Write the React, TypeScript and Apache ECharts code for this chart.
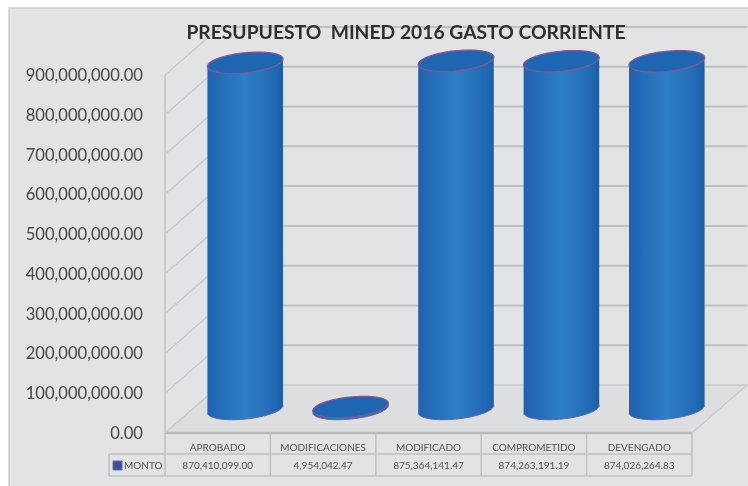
import React, { useEffect, useRef } from "react";
import * as echarts from "echarts";

const titleText = "PRESUPUESTO  MINED 2016 GASTO CORRIENTE";
const categories = ["APROBADO", "MODIFICACIONES", "MODIFICADO", "COMPROMETIDO", "DEVENGADO"];
const monto = [870410099.0, 4954042.47, 875364141.47, 874263191.19, 874026264.83];
const yTicks = [0, 100000000, 200000000, 300000000, 400000000, 500000000, 600000000, 700000000, 800000000, 900000000];
const legendName = "MONTO";

const W = 748, H = 486;
const GL = 165, GR = 692, GT = 75, GB = 433;
const DX = 55, DY = 48;
const ROW1 = 454, ROW2 = 476, LEG = 109;
const FONT = "Lato, 'Open Sans', sans-serif";
const money = (v: number) => v.toLocaleString("en-US", { minimumFractionDigits: 2, maximumFractionDigits: 2 });

const R = (-6 * Math.PI) / 180;
const A = 38, B = 10;
const ePt = (cx: number, cy: number, t: number) => [
  cx + A * Math.cos(t) * Math.cos(R) - B * Math.sin(t) * Math.sin(R),
  cy + A * Math.cos(t) * Math.sin(R) + B * Math.sin(t) * Math.cos(R),
];
const arcPts = (cx: number, cy: number, t0: number, t1: number, n = 40) => {
  const p: number[][] = [];
  for (let i = 0; i <= n; i++) p.push(ePt(cx, cy, t0 + ((t1 - t0) * i) / n));
  return p;
};

const GRID = "#bfc0c2";
const LINE = "#c0c1c3";

function renderWall(_: any, api: any) {
  const v = api.value(1);
  const p = api.coord([0, v]);
  const y = p[1];
  const lw = { stroke: "#cacbcd", lineWidth: 1.5 };
  const kids: any[] = [
    { type: "line", shape: { x1: GL, y1: y, x2: GL + DX, y2: y - DY }, style: lw },
  ];
  if (v > 0) {
    kids.push({ type: "line", shape: { x1: GL + DX, y1: y - DY, x2: GR + DX, y2: y - DY }, style: { stroke: GRID, lineWidth: 2 } });
  }
  return { type: "group", children: kids };
}

function renderCylinder(_: any, api: any) {
  const idx = api.value(0);
  const c = api.coord([idx, api.value(1)]);
  const base = api.coord([idx, 0]);
  const cx = c[0] + DX / 2;
  const top = c[1] - DY / 2;
  const bot = base[1] - DY / 2;
  const lower = arcPts(cx, bot, Math.PI, 0);
  const rimLeft = ePt(cx, top, Math.PI);
  const rimRight = ePt(cx, top, 0);
  const body = [rimLeft, ...lower, rimRight];
  const fill = new echarts.graphic.LinearGradient(0, 0, 1, 0, [
    { offset: 0, color: "#1f62b0" },
    { offset: 0.5, color: "#2e7fc5" },
    { offset: 0.88, color: "#2269b5" },
    { offset: 1, color: "#1c5ea6" },
  ]);
  const kids: any[] = [];
  if (top < bot - 1) {
    kids.push({ type: "polygon", shape: { points: body }, style: { fill } });
    kids.push({ type: "polyline", shape: { points: lower }, style: { fill: "none", stroke: "#5c68a8", lineWidth: 1 } });
  }
  kids.push({
    type: "polygon",
    shape: { points: arcPts(cx, top, 0, Math.PI * 2, 72) },
    style: { fill: "#1f66b2", stroke: "#87558f", lineWidth: 1.3 },
  });
  return { type: "group", children: kids };
}

function renderCellValue(_: any, api: any) {
  const idx = api.value(0);
  const c = api.coord([idx, 0]);
  return {
    type: "text",
    style: {
      x: c[0],
      y: 465,
      text: money(api.value(1)),
      align: "center",
      verticalAlign: "middle",
      fill: "#505050",
      font: `10px ${FONT}`,
    },
  };
}

export default function App() {
  const ref = useRef<HTMLDivElement>(null);
  useEffect(() => {
    const chart = echarts.init(ref.current!, null, { renderer: "svg" });
    const colW = (GR - GL) / categories.length;
    const tableLines: any[] = [];
    const hl = (x1: number, y: number, x2: number, w = 1.5, c = LINE) =>
      tableLines.push({ type: "line", z: 1, shape: { x1, y1: y, x2, y2: y }, style: { stroke: c, lineWidth: w } });
    const vl = (x: number, y1: number, y2: number, w = 1.5, c = LINE) =>
      tableLines.push({ type: "line", z: 1, shape: { x1: x, y1, x2: x, y2 }, style: { stroke: c, lineWidth: w } });
    hl(GL, GB, GR, 2.5, "#b9babc");
    hl(LEG, ROW1, GR);
    hl(LEG, ROW2, GR);
    vl(LEG, ROW1, ROW2);
    vl(GL, GT, ROW2);
    for (let i = 1; i <= categories.length; i++) vl(GL + colW * i, GB, ROW2);
    chart.setOption({
      animation: false,
      backgroundColor: "#ffffff",
      grid: { left: GL, right: W - GR, top: GT, bottom: H - GB },
      xAxis: {
        type: "category",
        data: categories,
        axisLine: { show: false },
        axisTick: { show: false },
        axisLabel: { color: "#505050", fontFamily: FONT, fontSize: 10, margin: 9, interval: 0 },
      },
      yAxis: {
        type: "value",
        min: 0,
        max: 900000000,
        interval: 100000000,
        axisLine: { show: false },
        axisTick: { show: false },
        splitLine: { show: false },
        axisLabel: { color: "#454545", fontFamily: FONT, fontSize: 16.6, margin: 22, formatter: (v: number) => money(v) },
      },
      graphic: [
        { type: "rect", z: 0, shape: { x: 9, y: 8, width: W, height: H }, style: { fill: "#e2e3e5", stroke: "#d0d1d3", lineWidth: 1.5 } },
        {
          type: "polygon",
          z: 0,
          shape: { points: [[GL, GB], [GR, GB], [GR + DX, GB - DY], [GL + DX, GB - DY]] },
          style: { fill: "#dddee0", stroke: "#cacbcd", lineWidth: 1.5 },
        },
        ...tableLines,
        { type: "rect", z: 1, shape: { x: 113, y: 461, width: 9, height: 9 }, style: { fill: "#3b4c9c", stroke: "#6a6fa8", lineWidth: 1 } },
        { type: "text", z: 1, style: { x: 124, y: 465, text: legendName, fill: "#505050", font: `10px ${FONT}`, align: "left", verticalAlign: "middle" } },
        { type: "text", z: 5, style: { x: 406, y: 31, text: titleText, fill: "#2e2e2e", font: `bold 19.3px ${FONT}`, align: "center", verticalAlign: "middle" } },
      ],
      series: [
        {
          type: "custom",
          z: 1,
          coordinateSystem: "cartesian2d",
          renderItem: renderWall,
          data: yTicks.map((v) => [0, v]),
          silent: true,
        },
        {
          type: "custom",
          name: legendName,
          z: 3,
          coordinateSystem: "cartesian2d",
          renderItem: renderCylinder,
          data: monto.map((v, i) => [i, v]),
          silent: true,
        },
        {
          type: "custom",
          z: 3,
          coordinateSystem: "cartesian2d",
          renderItem: renderCellValue,
          data: monto.map((v, i) => [i, v]),
          silent: true,
        },
      ],
    });
    return () => chart.dispose();
  }, []);
  return <div ref={ref} style={{ position: "fixed", left: 0, top: 0, width: W, height: H, filter: "blur(0.4px)" }} />;
}
